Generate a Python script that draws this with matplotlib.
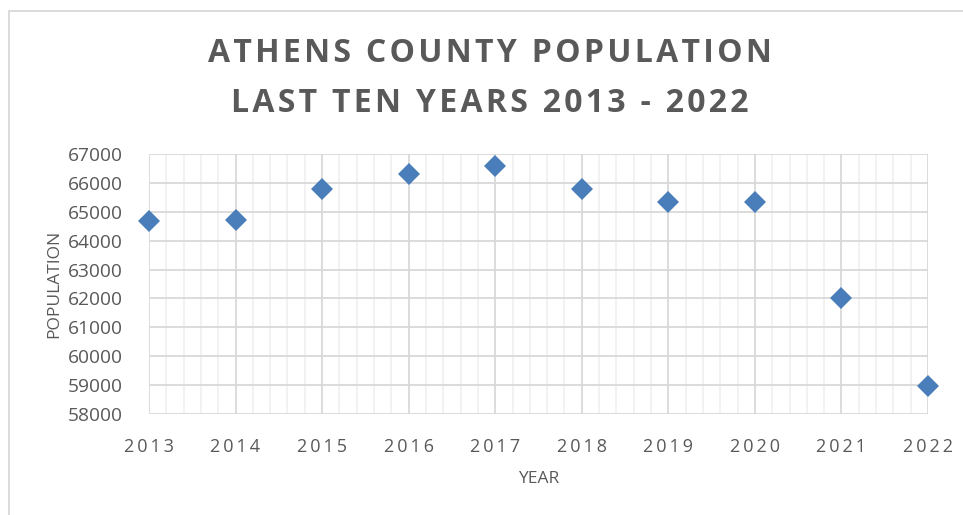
import numpy as np
from matplotlib import pyplot as plt
from matplotlib.ticker import MultipleLocator
from matplotlib.lines import Line2D

# Athens County population
years = [2013, 2014, 2015, 2016, 2017, 2018, 2019, 2020, 2021, 2022]
population = [64680, 64700, 65780, 66320, 66600, 65800, 65340, 65330, 62030, 58960]
year_labels = [str(y) for y in years]
title_lines = ['ATHENS COUNTY POPULATION', 'LAST TEN YEARS 2013 - 2022']

grey = '#595959'
blue = '#4a7ebb'
thin = '\u2009'
hair = '\u200a'

plt.rcParams['font.family'] = ['Open Sans', 'DejaVu Sans']

fig = plt.figure(figsize=(9.63, 5.15), dpi=100)
ax = fig.add_axes([149/963, 1 - 414/515, (928 - 149)/963, (414 - 154)/515])

ax.plot(years, population, 'D', color=blue, markersize=11, markeredgewidth=0,
        clip_on=False, zorder=5)

ax.set_xlim(2013, 2022)
ax.set_ylim(58000, 67000)
ax.xaxis.set_minor_locator(MultipleLocator(0.2))
ax.yaxis.set_major_locator(MultipleLocator(1000))
ax.set_xticks(years)
ax.set_xticklabels([thin.join(s) for s in year_labels])

ax.grid(which='major', axis='both', color='#d9d9d9', linewidth=1.3)
ax.grid(which='minor', axis='x', color='#efefef', linewidth=1.1)
ax.set_axisbelow(True)
for s in ax.spines.values():
    s.set_visible(False)
ax.tick_params(which='both', length=0, colors=grey, labelsize=13)
ax.tick_params(axis='y', labelsize=13.8, pad=19)
ax.tick_params(axis='x', pad=17)

ax.set_xlabel('YEAR', color=grey, fontsize=12.5, labelpad=11)
ax.set_ylabel('POPULATION', color=grey, fontsize=12.5, labelpad=4)

for i, line in enumerate(title_lines):
    fig.text(0.509, 1 - (53 + 50 * i)/515, hair.join(line), ha='center', va='center',
             fontsize=23, fontweight='bold', color=grey)

# chart frame (top and left edges visible)
fig.add_artist(Line2D([9/963, 9/963], [0, 1 - 11/515], color='#d9d9d9', linewidth=1.3,
                      transform=fig.transFigure))
fig.add_artist(Line2D([9/963, 1], [1 - 11/515, 1 - 11/515], color='#d9d9d9', linewidth=1.3,
                      transform=fig.transFigure))

plt.savefig('out.png')
